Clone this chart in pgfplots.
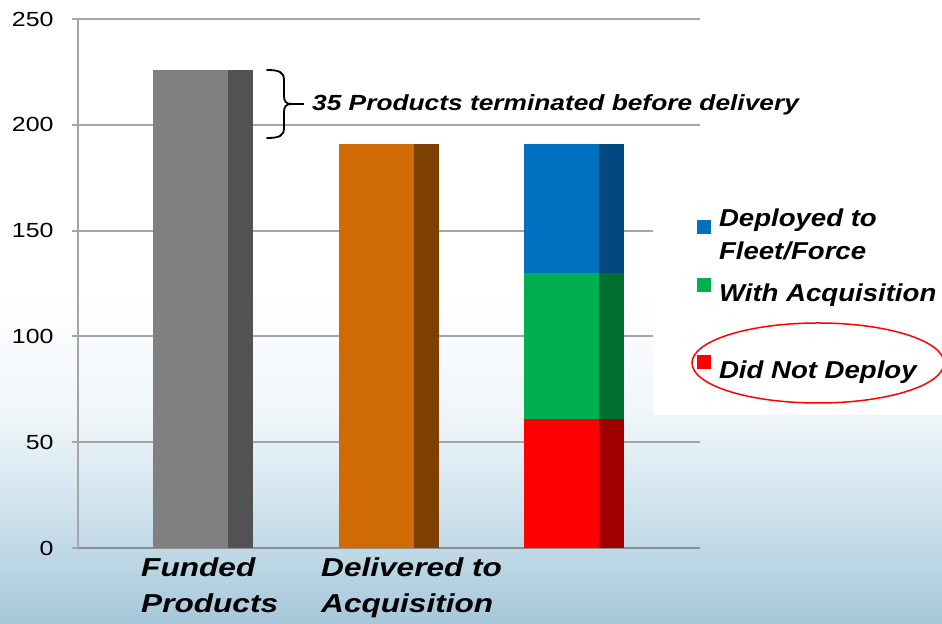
\documentclass[border=0pt]{standalone}
\usepackage{fontspec}
\setmainfont{Liberation Sans}
\usepackage{graphicx}
\usepackage{pgfplots}
\usepackage{pgfplotstable}
\pgfplotsset{compat=1.18}
\definecolor{gfront}{HTML}{808080}
\definecolor{gside}{HTML}{525252}
\definecolor{ofront}{HTML}{CF6A05}
\definecolor{oside}{HTML}{7E4000}
\definecolor{bfront}{HTML}{0070C0}
\definecolor{bside}{HTML}{03487F}
\definecolor{grfront}{HTML}{00B050}
\definecolor{grside}{HTML}{007030}
\definecolor{rfront}{HTML}{FF0000}
\definecolor{rside}{HTML}{A00000}
\definecolor{gridc}{HTML}{A5A5A5}
\definecolor{axc}{HTML}{8E8E8E}
\definecolor{bg1}{HTML}{A6C8DA}
\definecolor{bg2}{HTML}{D2E4EE}
\definecolor{bg3}{HTML}{EEF5F9}
\newcommand{\hs}[1]{\scalebox{1.22}[1]{#1}}
\newcommand{\hl}[1]{\scalebox{1.13}[1]{#1}}

\pgfplotstableread{
x y
0 226
}\funded
\pgfplotstableread{
x y
1 191
}\delivered
\pgfplotstableread{
x red green blue
2 61 69 61
}\status

\pgfplotsset{
  base/.style={
    scale only axis, width=622bp, height=529bp,
    at={(78bp,76bp)}, anchor=south west,
    xmin=-0.673, xmax=2.676, ymin=0, ymax=250,
  },
}
\begin{document}
\begin{tikzpicture}
\useasboundingbox (0,0) rectangle (942bp,624bp);
\shade[bottom color=bg1, top color=bg2] (0,0) rectangle (942bp,124bp);
\shade[bottom color=bg2, top color=bg3] (0,124bp) rectangle (942bp,204bp);
\shade[bottom color=bg3, top color=white] (0,204bp) rectangle (942bp,330bp);
\fill[white] (0,330bp) rectangle (942bp,624bp);

\begin{axis}[base,
  axis x line=bottom, axis y line=left,
  axis line style={-},
  y axis line style={gridc, line width=2bp},
  x axis line style={axc, line width=2.5bp},
  ymajorgrids, grid style={gridc, line width=2bp},
  ytick={0,50,...,250}, xtick=\empty,
  tick align=outside, major tick length=6bp,
  tick style={gridc, line width=2bp},
  /pgf/number format/assume math mode=true,
  yticklabel style={font=\fontsize{20.5}{24}\selectfont, black, xshift=-15bp},
  yticklabel={\hs{\pgfmathprintnumber{\tick}}},
  ybar,
]
\addplot[fill=gfront, draw=none, bar width=75bp, bar shift=-12.5bp] table[x=x,y=y]{\funded};
\addplot[fill=gside, draw=none, bar width=25bp, bar shift=37.5bp] table[x=x,y=y]{\funded};
\addplot[fill=ofront, draw=none, bar width=75bp, bar shift=-12.5bp] table[x=x,y=y]{\delivered};
\addplot[fill=oside, draw=none, bar width=25bp, bar shift=37.5bp] table[x=x,y=y]{\delivered};
\end{axis}

% legend panel
\fill[white] (653bp,209bp) rectangle (942bp,427bp);

\begin{axis}[base, hide axis, ybar stacked,
  reverse legend,
  legend cell align=left,
  legend style={draw=none, fill=none, inner sep=0pt, outer sep=0pt,
    at={(axis description cs:0.99518,0.6406)}, anchor=north west,
    row sep=17bp, column sep=8bp,
    nodes={inner sep=0pt, align=left},
    font=\fontsize{24.5}{33}\selectfont\bfseries\itshape},
]
\addplot[fill=rfront, draw=none, bar width=75bp, bar shift=-12.5bp,
  legend image code/.code={\path[draw=none, fill=none] (0,0) rectangle (14bp,50.5bp); \fill[rfront, draw=none] (0bp,1.5bp) rectangle (14bp,15.5bp);}]
  table[x=x,y=red]{\status};
\addlegendentry{\hl{Did Not Deploy}}
\addplot[fill=grfront, draw=none, bar width=75bp, bar shift=-12.5bp,
  legend image code/.code={\fill[grfront, draw=none] (0bp,1.5bp) rectangle (14bp,15.5bp);}]
  table[x=x,y=green]{\status};
\addlegendentry{\hl{With Acquisition}}
\addplot[fill=bfront, draw=none, bar width=75bp, bar shift=-12.5bp,
  legend image code/.code={\fill[bfront, draw=none] (0bp,1.5bp) rectangle (14bp,15.5bp);}]
  table[x=x,y=blue]{\status};
\addlegendentry{\hl{Deployed to}\\\hl{Fleet/Force}}
\end{axis}

\begin{axis}[base, hide axis, ybar stacked]
\addplot[fill=rside, draw=none, bar width=25bp, bar shift=37.5bp] table[x=x,y=red]{\status};
\addplot[fill=grside, draw=none, bar width=25bp, bar shift=37.5bp] table[x=x,y=green]{\status};
\addplot[fill=bside, draw=none, bar width=25bp, bar shift=37.5bp] table[x=x,y=blue]{\status};
\end{axis}

\begin{scope}[shift={(0,624bp)}, yscale=-1, x=1bp, y=1bp]
  % brace
  \draw[black, line width=1.8bp, line cap=round]
    (267,70) .. controls (279,70) and (284,72) .. (284,80) -- (284,96)
    .. controls (284,101) and (286,104) .. (291,104)
    .. controls (286,104) and (284,107) .. (284,112) -- (284,128)
    .. controls (284,136) and (279,138) .. (267,138);
  \draw[black, line width=1.8bp] (290,104) -- (304,104);
  \node[anchor=base west, inner sep=0pt, font=\fontsize{22}{26}\selectfont\bfseries\itshape]
    at (312,111) {\scalebox{1.2}[1]{35 Products terminated before delivery}};
  % category labels
  \node[anchor=base west, inner sep=0pt, font=\fontsize{26}{30}\selectfont\bfseries\itshape]
    at (141,577) {\hs{Funded}};
  \node[anchor=base west, inner sep=0pt, font=\fontsize{26}{30}\selectfont\bfseries\itshape]
    at (141,613) {\hs{Products}};
  \node[anchor=base west, inner sep=0pt, font=\fontsize{26}{30}\selectfont\bfseries\itshape]
    at (321,577) {\hs{Delivered to}};
  \node[anchor=base west, inner sep=0pt, font=\fontsize{26}{30}\selectfont\bfseries\itshape]
    at (321,613) {\hs{Acquisition}};
  % highlight ellipse
  \draw[rfront, line width=1.5bp] (818,363) ellipse (126 and 40);
\end{scope}
\end{tikzpicture}
\end{document}
